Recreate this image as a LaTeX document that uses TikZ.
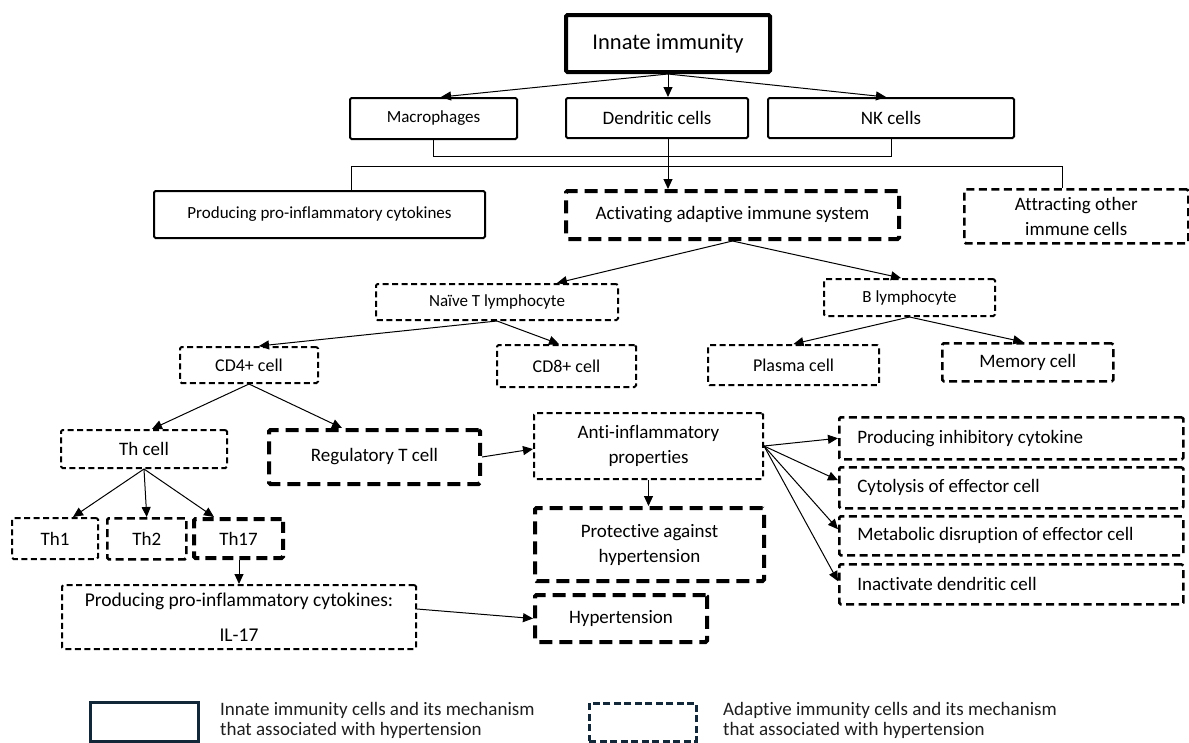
\documentclass[tikz,border=0pt]{standalone}
\usepackage{fontspec}
\setmainfont{Carlito}[RawFeature={-liga}]
\usetikzlibrary{arrows.meta}
\definecolor{legcol}{RGB}{18,40,56}
\definecolor{legtext}{RGB}{30,30,30}
\begin{document}
\begin{tikzpicture}[x=1pt,y=-1pt,
  box/.style={draw, inner sep=0pt, anchor=north west, align=center, rounded corners=1.5pt},
  solidbox/.style={box, line width=2pt},
  thickbox/.style={box, line width=4pt, dash pattern=on 13pt off 7pt},
  thinbox/.style={box, line width=2pt, dash pattern=on 6pt off 3.5pt},
  medbox/.style={box, line width=2.5pt, dash pattern=on 8pt off 4.5pt},
  conn/.style={line width=1pt, -{Triangle[length=10pt,width=9pt]}},
  plain/.style={line width=1pt},
  fa/.style={font=\fontsize{17}{25}\selectfont},
  fb/.style={font=\fontsize{19}{25}\selectfont},
  rbox/.style={medbox, fb, text width=308pt, inner xsep=18pt, align=flush left},
  legtxt/.style={font=\fontsize{19}{20.5}\selectfont, text=legtext, anchor=north west, align=flush left, inner sep=0pt}
]
\useasboundingbox (0,0) rectangle (1189,742);

% innate level
\node[solidbox, line width=4pt, minimum width=204pt, minimum height=57pt, font=\fontsize{22.5}{27}\selectfont] (innate) at (564,13) {Innate immunity};
\node[solidbox, fa, minimum width=167pt, minimum height=41pt] (mac) at (349,97) {Macrophages};
\node[solidbox, fb, minimum width=182pt, minimum height=40pt] (dend) at (565,97) {Dendritic cells};
\node[solidbox, fb, minimum width=246pt, minimum height=40pt] (nk) at (767,97) {NK cells};

\node[solidbox, fa, minimum width=331pt, minimum height=47pt] (prod1) at (153,190) {Producing pro-inflammatory cytokines};
\node[thickbox, fb, minimum width=333pt, minimum height=48pt] (act) at (564,189) {Activating adaptive immune system};
\node[medbox, fb, minimum width=224pt, minimum height=54pt] (attr) at (963,188) {Attracting other\\immune cells};

% adaptive
\node[thinbox, fa, minimum width=242pt, minimum height=36pt] (naive) at (375,283) {Naïve T lymphocyte};
\node[thinbox, fa, minimum width=171pt, minimum height=37pt] (blym) at (823,278) {B lymphocyte};
\node[thinbox, font=\fontsize{18}{25}\selectfont, minimum width=138pt, minimum height=36pt] (cd4) at (179,346) {CD4+ cell};
\node[thinbox, font=\fontsize{18}{25}\selectfont, minimum width=139pt, minimum height=42pt] (cd8) at (496,344) {CD8+ cell};
\node[thinbox, font=\fontsize{18}{25}\selectfont, minimum width=171pt, minimum height=40pt] (plasma) at (707,344) {Plasma cell};
\node[medbox, fb, minimum width=171pt, minimum height=38pt] (memory) at (941,342) {Memory cell};

\node[thinbox, fb, minimum width=166pt, minimum height=38pt] (th) at (60,429) {Th cell};
\node[thickbox, fb, minimum width=211pt, minimum height=54pt] (reg) at (267,428) {Regulatory T cell};
\node[thinbox, fb, minimum width=86pt, minimum height=41pt] (th1) at (11,517) {Th1};
\node[medbox, fb, minimum width=79pt, minimum height=41pt] (th2) at (106,517) {Th2};
\node[thickbox, fb, minimum width=89pt, minimum height=39pt, dash pattern=on 11pt off 6pt] (th17) at (192,517) {Th17};
\node[thinbox, font=\fontsize{19.5}{35}\selectfont, minimum width=354pt, minimum height=64pt] (il17) at (61,584) {Producing pro-inflammatory cytokines:\\IL-17};
\node[thickbox, fb, minimum width=172pt, minimum height=47pt] (hyp) at (533,593) {Hypertension};

\node[thinbox, fb, minimum width=229pt, minimum height=66pt] (anti) at (533,412) {Anti-inflammatory\\properties};
\node[thickbox, fb, minimum width=229pt, minimum height=73pt] (prot) at (533,506) {Protective against\\hypertension};

\node[rbox, minimum height=42pt] (r1) at (838,416) {Producing inhibitory cytokine};
\node[rbox, minimum height=41pt] (r2) at (838,466) {Cytolysis of effector cell};
\node[rbox, minimum height=39pt] (r3) at (838,515) {Metabolic disruption of effector cell};
\node[rbox, minimum height=40pt] (r4) at (838,563) {Inactivate dendritic cell};

% legend
\node[draw=legcol, line width=2.5pt, anchor=north west, minimum width=108pt, minimum height=39pt, inner sep=0pt] (leg1) at (89,701) {};
\node[legtxt] (leg1t) at (220,702) {Innate immunity cells and its mechanism\\that associated with hypertension};
\node[draw=legcol, line width=2.5pt, dash pattern=on 7pt off 3.5pt, anchor=north west, minimum width=107pt, minimum height=38pt, inner sep=0pt] (leg2) at (588,702) {};
\node[legtxt] (leg2t) at (723,702) {Adaptive immunity cells and its mechanism\\that associated with hypertension};

% connectors innate
\draw[conn] (innate.south) -- ([xshift=7.5pt]mac.north);
\draw[conn] (innate.south) -- (innate.south |- dend.north);
\draw[conn] (innate.south) -- ([xshift=-5pt]nk.north);

\coordinate (bus1) at (0,156);
\coordinate (bus2) at (0,166);
\coordinate (dendbot) at (innate.south |- dend.south);
\draw[plain] (mac.south) -- (mac.south |- bus1) -- (nk.south |- bus1) -- (nk.south);
\draw[conn] (dendbot) -- (dendbot |- act.north);
\coordinate (p1top) at ([xshift=31.5pt]prod1.north);
\coordinate (attrtop) at ([xshift=-14pt]attr.north);
\draw[plain] (p1top) -- (p1top |- bus2) -- (attrtop |- bus2) -- (attrtop);

% adaptive connectors
\draw[conn] (act.south) -- ([xshift=60pt]naive.north);
\draw[conn] (act.south) -- ([xshift=-8.5pt]blym.north);
\draw[conn] (naive.south) -- ([xshift=10pt]cd4.north);
\draw[conn] (naive.south) -- ([xshift=-7.5pt]cd8.north);
\draw[conn] (blym.south) -- (plasma.north);
\draw[conn] (blym.south) -- ([xshift=-4.5pt]memory.north);
\draw[conn] (cd4.south) -- ([xshift=8pt]th.north);
\draw[conn] (cd4.south) -- ([xshift=-32.5pt]reg.north);
\draw[conn] (th.south) -- ([xshift=18pt]th1.north);
\draw[conn] (th.south) -- (th2.north);
\draw[conn] (th.south) -- ([xshift=-24.5pt]th17.north);
\draw[conn] (il17.north |- th17.south) -- (il17.north);
\draw[conn] ([yshift=8pt]il17.east) -- (hyp.west);
\draw[conn] (reg.east) -- ([yshift=-3pt]anti.west);
\draw[conn] (anti.south) -- (anti.south |- prot.north);
\draw[conn] (anti.east) -- (r1.west);
\draw[conn] (anti.east) -- ([yshift=7.5pt]r2.west);
\draw[conn] (anti.east) -- ([yshift=6.5pt]r3.west);
\draw[conn] (anti.east) -- ([yshift=3pt]r4.west);
\end{tikzpicture}
\end{document}
